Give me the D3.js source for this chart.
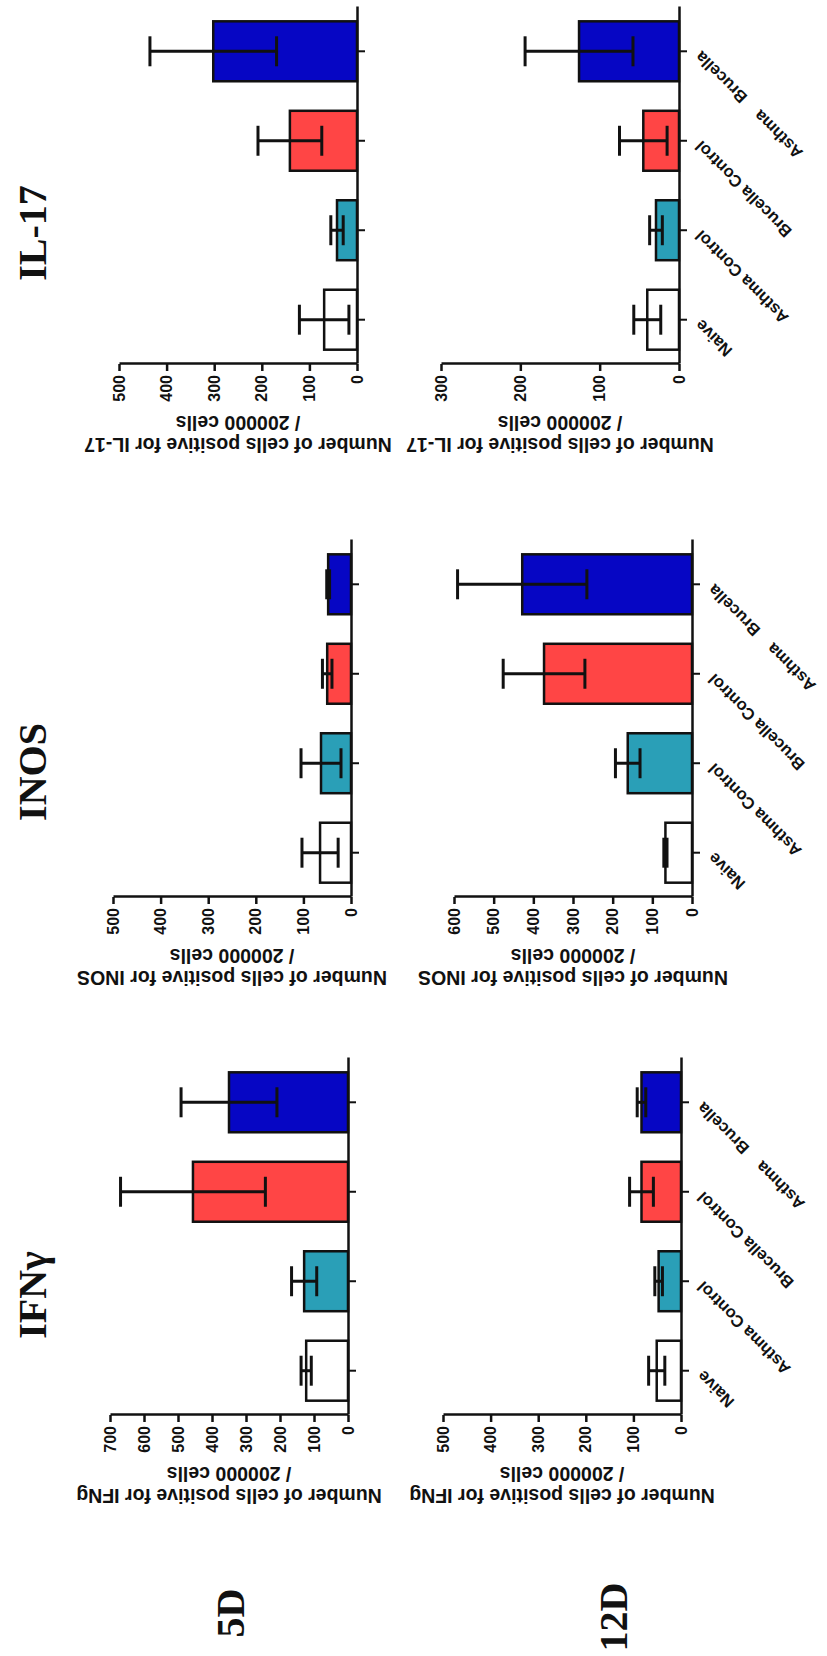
<!DOCTYPE html>
<html>
<head>
<meta charset="utf-8">
<script src="https://cdnjs.cloudflare.com/ajax/libs/d3/7.8.5/d3.min.js"></script>
<style>
body { margin: 0; background: #fff; }
</style>
</head>
<body>
<div id="container"></div>
<script>
let width = 827
let height = 1656
let fontFamily = "'Liberation Sans', Arial, sans-serif"
let serifFamily = "'Liberation Serif', 'Times New Roman', serif"

// groups, left to right in every panel
let groups = ['Naive', 'Asthma Control', 'Brucella Control', 'Asthma Brucella']
let groupColors = ['#ffffff', '#2a9fb7', '#ff4545', '#0606c4']
let markers = ['IFNγ', 'INOS', 'IL-17']
let markerLabels = ['IFNg', 'INOS', 'IL-17']
let days = ['5D', '12D']

// means and error, order = groups
let ifng5 = [123, 129, 456, 350]
let ifng5Err = [15, 37, 213, 141]
let ifng12 = [51, 47, 83, 83]
let ifng12Err = [17, 8, 25, 9]
let inos5 = [65, 63, 50, 48]
let inos5Err = [38, 42, 10, 3]
let inos12 = [67, 162, 373, 428]
let inos12Err = [4, 31, 103, 163]
let il17_5 = [69, 42, 141, 302]
let il17_5Err = [52, 13, 67, 133]
let il17_12 = [40, 29, 45, 126]
let il17_12Err = [17, 8, 30, 68]

// axis maxima per panel
let axisMax5 = [700, 500, 500]
let axisMax12 = [500, 600, 300]

let panels = [
    { col: 0, row: 0, vals: ifng5, err: ifng5Err, max: axisMax5[0] },
    { col: 0, row: 1, vals: ifng12, err: ifng12Err, max: axisMax12[0] },
    { col: 1, row: 0, vals: inos5, err: inos5Err, max: axisMax5[1] },
    { col: 1, row: 1, vals: inos12, err: inos12Err, max: axisMax12[1] },
    { col: 2, row: 0, vals: il17_5, err: il17_5Err, max: axisMax5[2] },
    { col: 2, row: 1, vals: il17_12, err: il17_12Err, max: axisMax12[2] }
]

// layout of the landscape figure (before it gets turned)
let colAxisX = [241, 759, 1292]
let rowZero = [[348, 681], [351, 692], [357, 679]]
let titleX = [361, 884, 1423]
let plotW = 357
let plotH = 238

let svg = d3.select('#container')
    .append('svg')
    .attr('width', width)
    .attr('height', height)
    .style('background', '#fff')

// whole figure is rotated a quarter turn counter-clockwise
let fig = svg.append('g')
    .attr('transform', `translate(0,${height}) rotate(-90)`)

function drawPanel(p) {
    let x0 = colAxisX[p.col]
    let zero = rowZero[p.col][p.row]
    let g = fig.append('g')
        .attr('transform', `translate(${x0},${zero - plotH})`)

    let x = d3.scaleBand()
        .domain(groups)
        .range([0, plotW])
        .paddingInner(0.33)
        .paddingOuter(0.16)
    let y = d3.scaleLinear()
        .domain([0, p.max])
        .range([plotH, 0])

    // bars
    g.append('g')
        .selectAll('rect')
        .data(p.vals)
        .join('rect')
        .attr('x', (d, i) => x(groups[i]))
        .attr('y', d => y(d))
        .attr('width', x.bandwidth())
        .attr('height', d => plotH - y(d))
        .attr('fill', (d, i) => groupColors[i])
        .attr('stroke', '#111')
        .attr('stroke-width', 2.5)

    // error bars
    let capW = x.bandwidth() / 2
    let eb = g.append('g')
        .selectAll('g')
        .data(p.vals)
        .join('g')
        .attr('stroke', '#111')
        .attr('stroke-width', 3)
    eb.append('line')
        .attr('x1', (d, i) => x(groups[i]) + x.bandwidth() / 2)
        .attr('x2', (d, i) => x(groups[i]) + x.bandwidth() / 2)
        .attr('y1', (d, i) => y(d - p.err[i]))
        .attr('y2', (d, i) => y(d + p.err[i]))
    eb.append('line')
        .attr('x1', (d, i) => x(groups[i]) + x.bandwidth() / 2 - capW / 2)
        .attr('x2', (d, i) => x(groups[i]) + x.bandwidth() / 2 + capW / 2)
        .attr('y1', (d, i) => y(d + p.err[i]))
        .attr('y2', (d, i) => y(d + p.err[i]))
    eb.append('line')
        .attr('x1', (d, i) => x(groups[i]) + x.bandwidth() / 2 - capW / 2)
        .attr('x2', (d, i) => x(groups[i]) + x.bandwidth() / 2 + capW / 2)
        .attr('y1', (d, i) => y(d - p.err[i]))
        .attr('y2', (d, i) => y(d - p.err[i]))

    // value axis
    let yAxis = g.append('g')
        .call(d3.axisLeft(y)
            .tickValues(d3.range(0, p.max + 1, 100))
            .tickSize(7)
            .tickPadding(4)
            .tickSizeOuter(0))
    yAxis.selectAll('path, line').attr('stroke', '#111').attr('stroke-width', 2.5)
    yAxis.selectAll('text')
        .style('font-family', fontFamily)
        .style('font-size', '16px')
        .style('font-weight', 'bold')
        .attr('fill', '#111')

    // category axis
    let xAxis = g.append('g')
        .attr('transform', `translate(0,${plotH})`)
        .call(d3.axisBottom(x).tickSize(8).tickSizeOuter(0))
    xAxis.selectAll('path, line').attr('stroke', '#111').attr('stroke-width', 2.5)
    xAxis.selectAll('line').attr('stroke-width', 2)
    if (p.row === 0) {
        xAxis.selectAll('text').remove()
    } else {
        xAxis.selectAll('text')
            .attr('x', 0)
            .attr('y', 0)
            .attr('dy', '0.35em')
            .attr('transform', 'translate(-3,19) rotate(-45)')
            .attr('text-anchor', 'end')
            .style('font-family', fontFamily)
            .style('font-size', '16.5px')
            .style('font-weight', 'bold')
            .attr('fill', '#111')
            .each(function (d) {
                if (d === 'Asthma Brucella') {
                    let t = d3.select(this).text(null)
                    t.append('tspan').text('Asthma')
                    t.append('tspan').attr('dx', 18).text('Brucella')
                }
            })
    }

    // value axis title, two lines
    let title = g.append('text')
        .attr('transform', `translate(-74,${plotH / 2}) rotate(-90)`)
        .attr('text-anchor', 'middle')
        .style('font-family', fontFamily)
        .style('font-size', '19.5px')
        .style('font-weight', 'bold')
        .attr('fill', '#111')
    title.append('tspan')
        .attr('x', 0)
        .attr('y', 0)
        .text('Number of cells positive for ' + markerLabels[p.col])
    title.append('tspan')
        .attr('x', 0)
        .attr('y', 22)
        .text('/ 200000 cells')
}

panels.forEach(drawPanel)

// column titles
fig.append('g')
    .selectAll('text')
    .data(markers)
    .join('text')
    .attr('x', (d, i) => titleX[i])
    .attr('y', 46)
    .attr('text-anchor', 'middle')
    .style('font-family', serifFamily)
    .style('font-size', '40px')
    .style('font-weight', 'bold')
    .attr('fill', '#111')
    .text(d => d)

// row labels
let rowLabelPos = [[43, 244], [39, 627]]
fig.append('g')
    .selectAll('text')
    .data(days)
    .join('text')
    .attr('x', (d, i) => rowLabelPos[i][0])
    .attr('y', (d, i) => rowLabelPos[i][1])
    .attr('text-anchor', 'middle')
    .style('font-family', serifFamily)
    .style('font-size', '40px')
    .style('font-weight', 'bold')
    .attr('fill', '#111')
    .text(d => d)
</script>
</body>
</html>
